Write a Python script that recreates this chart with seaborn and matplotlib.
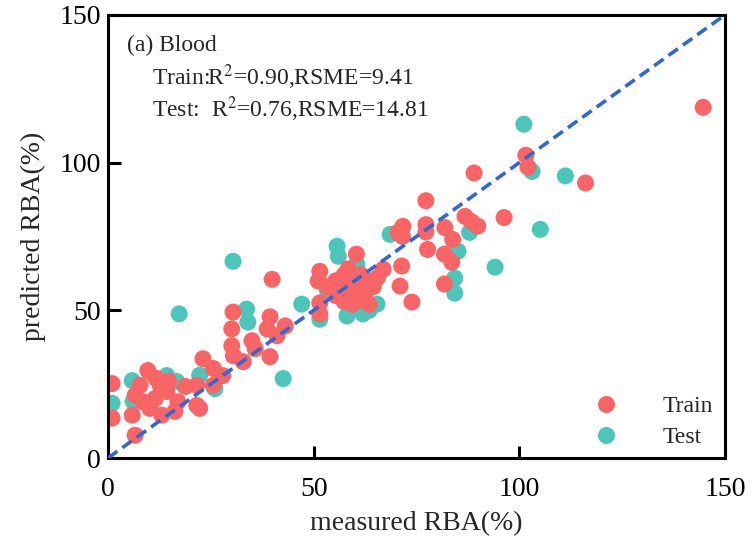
import matplotlib
matplotlib.use('Agg')
import matplotlib.pyplot as plt
import seaborn as sns
import numpy as np
import pandas as pd

# measured / predicted RBA (%)
train_x = [144.7, 116.1, 101.6, 102.1, 89.0, 77.3, 96.3, 86.8, 88.4, 89.9,
           77.3, 77.3, 81.9, 83.8, 71.7, 70.5, 71.6, 77.7, 71.4, 81.8,
           83.6, 81.8, 73.9, 71.0, 66.9, 60.4, 51.5, 51.1, 51.5, 51.5,
           39.9, 39.4, 38.7, 41.1, 43.1, 30.4, 30.1, 30.1, 30.5, 32.9,
           35.0, 35.8, 39.4, 23.1, 25.6, 27.9, 25.6, 22.3, 1.0, 1.0,
           6.6, 5.9, 6.6, 9.7, 7.8, 12.7, 11.5, 10.2, 14.3, 13.1,
           16.3, 17.0, 18.8, 21.6, 21.6, 8.6, 11.7, 14.7, 55.4, 57.4,
           59.4, 61.5, 63.5, 56.4, 58.4, 60.4, 62.5, 64.5, 57.4, 59.4,
           61.5, 63.5, 55.4, 53.3, 58.4, 65.5]
train_y = [118.7, 93.1, 102.5, 98.5, 96.5, 87.1, 81.4, 81.8, 80.0, 78.5,
           79.0, 76.5, 78.0, 74.0, 78.4, 76.4, 75.0, 70.6, 65.0, 69.0,
           66.3, 58.9, 52.8, 58.2, 63.9, 69.0, 63.2, 59.9, 52.5, 48.8,
           60.5, 47.8, 43.7, 41.4, 44.7, 49.4, 43.7, 38.0, 34.6, 32.6,
           39.7, 37.0, 34.3, 33.6, 30.3, 27.9, 24.6, 16.8, 25.2, 13.5,
           7.7, 14.5, 21.2, 29.6, 24.6, 24.6, 20.2, 16.8, 22.5, 14.5,
           15.8, 19.0, 24.2, 24.6, 17.8, 19.0, 27.0, 26.0, 60.0, 62.0,
           60.5, 62.0, 60.0, 57.0, 56.0, 57.5, 56.0, 58.0, 53.0, 52.0,
           53.5, 52.0, 55.0, 58.0, 64.0, 61.0]

test_x = [101.1, 103.1, 111.2, 105.1, 87.9, 85.1, 94.1, 84.3, 84.3, 68.6,
          55.7, 56.0, 60.5, 47.1, 51.5, 58.1, 62.0, 65.4, 30.4, 33.7,
          34.0, 42.6, 26.0, 17.3, 1.0, 5.9, 14.3, 16.7, 6.1, 22.3,
          25.9, 63.5, 53.3]
test_y = [113.0, 97.0, 95.5, 77.4, 76.4, 70.0, 64.6, 60.9, 55.8, 75.7,
          71.7, 68.3, 65.6, 52.1, 47.0, 48.1, 48.8, 52.1, 66.6, 50.4,
          46.0, 26.9, 23.5, 48.8, 18.5, 26.2, 27.9, 25.9, 19.2, 28.0,
          24.0, 50.0, 57.0]

df = pd.concat([
    pd.DataFrame({'measured': test_x, 'predicted': test_y, 'set': 'Test'}),
    pd.DataFrame({'measured': train_x, 'predicted': train_y, 'set': 'Train'}),
], ignore_index=True)

sns.set_style('white')
plt.rcParams.update({
    'font.family': ['Liberation Serif', 'DejaVu Serif'],
    'mathtext.fontset': 'stix',
    'xtick.bottom': True, 'ytick.left': True,
    'xtick.top': False, 'ytick.right': False,
    'xtick.direction': 'in', 'ytick.direction': 'in',
    'xtick.major.size': 9, 'ytick.major.size': 9,
    'xtick.major.width': 2.2, 'ytick.major.width': 2.2,
    'xtick.color': 'black', 'ytick.color': 'black',
    'axes.axisbelow': False,
})

fig = plt.figure(figsize=(7.54, 5.41), dpi=100)
ax = fig.add_axes([0.1432, 0.1534, 0.8183, 0.819])

sns.scatterplot(data=df, x='measured', y='predicted', hue='set',
                hue_order=['Train', 'Test'],
                palette={'Train': '#F96566', 'Test': '#4DC5B8'},
                s=150, linewidth=0, alpha=1, ax=ax)

ax.plot([0, 150], [0, 150], ls=(0, (3.2, 1.7)), c='#3266D0', lw=2.6, zorder=3)

ax.set_xlim(0, 150)
ax.set_ylim(0, 150)
ax.set_xticks([0, 50, 100, 150])
ax.set_yticks([0, 50, 100, 150])
ax.set_xlabel('measured RBA(%)', fontsize=20, labelpad=6)
ax.set_ylabel('predicted RBA(%)', fontsize=20, labelpad=10)
ax.tick_params(axis='x', which='major', direction='in', length=9, width=2.2,
               labelsize=20, pad=14, bottom=True, top=False, color='black')
ax.tick_params(axis='y', which='major', direction='in', length=9, width=2.2,
               labelsize=20, pad=5, left=True, right=False, color='black')
for sp in ax.spines.values():
    sp.set_linewidth(2.2)
    sp.set_color('black')

ax.text(0.031, 0.93, '(a) Blood', transform=ax.transAxes, fontsize=17, va='center')
ax.text(0.071, 0.86, 'Train:R$^2$=0.90,RSME=9.41', transform=ax.transAxes,
        fontsize=17, va='center')
ax.text(0.071, 0.787, 'Test:  R$^2$=0.76,RSME=14.81', transform=ax.transAxes,
        fontsize=17, va='center')

ax.legend(loc='lower right', frameon=False, fontsize=17, markerscale=1.0,
          handletextpad=1.4, labelspacing=0.4, bbox_to_anchor=(1.015, -0.025))

fig.savefig('out.png', dpi=100)
